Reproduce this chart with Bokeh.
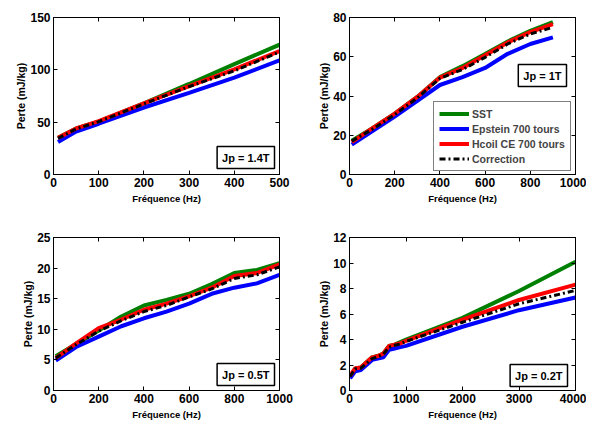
from bokeh.plotting import figure
from bokeh.layouts import gridplot
from bokeh.models import Range1d, LinearAxis, Label, Legend, LegendItem, FixedTicker
from bokeh.embed import file_html
from bokeh.resources import INLINE

# ---------------- data ----------------
series_names = ["SST", "Epstein 700 tours", "Hcoil CE 700 tours", "Correction"]
jp_labels = ["Jp = 1.4T", "Jp = 1T", "Jp = 0.5T", "Jp = 0.2T"]
x_label = "Fréquence (Hz)"
y_label = "Perte (mJ/kg)"

f1 = [10, 50, 100, 200, 300, 400, 500]
sst1 = [35, 44, 50.5, 68, 86.5, 105.5, 124]
eps1 = [31, 41, 48.5, 64, 78, 92.5, 109]
hcoil1 = [35, 44, 51, 68, 84.5, 100.5, 118]
corr1 = [34.5, 43.5, 50.5, 67.5, 84, 99, 117]

f2 = [10, 100, 200, 300, 400, 500, 600, 700, 800, 900]
sst2 = [17.2, 23.5, 31, 39.5, 49.6, 55.2, 61.4, 67.8, 73.2, 77.6]
eps2 = [15.2, 22, 29.5, 37.5, 45.6, 49.6, 54.3, 61.5, 66.5, 69.9]
hcoil2 = [16.5, 23.5, 31, 39.5, 49.4, 54.3, 60.8, 67.3, 72.6, 76.6]
corr2 = [17, 23, 30.5, 39, 49, 53.5, 59.7, 66.5, 71.6, 75]

f3 = [10, 100, 200, 300, 400, 500, 600, 700, 800, 900, 1000]
sst3 = [5.6, 7.6, 9.8, 12.1, 13.9, 14.8, 15.8, 17.4, 19.2, 19.7, 20.8]
eps3 = [4.9, 7.1, 8.8, 10.5, 11.8, 12.9, 14.2, 15.8, 16.8, 17.5, 18.9]
hcoil3 = [5.3, 7.7, 10.2, 11.6, 13.2, 14.2, 15.4, 16.8, 18.7, 19.2, 20.6]
corr3 = [5.3, 7.5, 9.7, 11.4, 12.9, 13.9, 15.3, 16.6, 18.3, 18.9, 20.2]

f4 = [10, 100, 200, 400, 500, 600, 700, 800, 900, 1000, 2000, 3000, 4000]
sst4 = [1.15, 1.7, 1.8, 2.6, 2.7, 2.9, 3.5, 3.6, 3.8, 4.0, 5.7, 7.8, 10.1]
eps4 = [0.95, 1.5, 1.6, 2.4, 2.5, 2.6, 3.2, 3.3, 3.4, 3.5, 5.0, 6.3, 7.3]
hcoil4 = [1.15, 1.75, 1.8, 2.6, 2.7, 2.9, 3.5, 3.6, 3.7, 3.9, 5.55, 7.1, 8.3]
corr4 = [1.1, 1.7, 1.75, 2.5, 2.65, 2.85, 3.4, 3.55, 3.65, 3.85, 5.35, 6.8, 7.85]

x_ranges = [(0, 500), (0, 1000), (0, 1000), (0, 4000)]
y_ranges = [(0, 150), (0, 80), (0, 25), (0, 12)]
x_ticks = [[0, 100, 200, 300, 400, 500], [0, 200, 400, 600, 800, 1000],
           [0, 200, 400, 600, 800, 1000], [0, 1000, 2000, 3000, 4000]]
y_ticks = [[0, 50, 100, 150], [0, 20, 40, 60, 80], [0, 5, 10, 15, 20, 25],
           [0, 2, 4, 6, 8, 10, 12]]

# ---------------- styling ----------------
FONT = "Liberation Sans"
colors = ["#008000", "#0000ff", "#ff0000", "#000000"]
dashes = ["solid", "solid", "solid", "6 3 2 3"]
widths = [4, 4, 4, 3]

datasets = [
    (f1, [sst1, eps1, hcoil1, corr1]),
    (f2, [sst2, eps2, hcoil2, corr2]),
    (f3, [sst3, eps3, hcoil3, corr3]),
    (f4, [sst4, eps4, hcoil4, corr4]),
]

# layout geometry (width, height, left, right, top, bottom borders)
geo = [
    (297, 216, 53, 18, 17, 42),
    (289, 216, 52, 11, 17, 42),
    (297, 206, 53, 18, 21, 30),
    (289, 206, 52, 11, 21, 30),
]
# Jp box anchor (screen px inside frame)
jp_pos = [(221, 6), (217, 88), (221, 5), (218, 4)]


def style_axis(ax, labels=True):
    ax.axis_line_color = "black"
    ax.axis_line_width = 1
    ax.major_tick_in = 4
    ax.major_tick_out = 0
    ax.minor_tick_line_color = None
    ax.major_tick_line_color = "black"
    ax.major_label_text_font = FONT
    ax.major_label_text_font_style = "bold"
    ax.major_label_text_font_size = "12px" if labels else "0px"
    ax.major_label_text_color = "black"
    ax.major_label_standoff = 3 if labels else 0
    ax.axis_label_text_font = FONT
    ax.axis_label_text_font_style = "bold"
    ax.axis_label_text_color = "black"


figs = []
for i, (fx, ys) in enumerate(datasets):
    w, h, bl, br, bt, bb = geo[i]
    p = figure(width=w, height=h, output_backend="svg", toolbar_location=None,
               x_range=Range1d(*x_ranges[i]), y_range=Range1d(*y_ranges[i]),
               min_border_left=bl, min_border_right=br, min_border_top=bt,
               min_border_bottom=bb)
    p.xgrid.visible = False
    p.ygrid.visible = False
    p.outline_line_color = "black"
    p.outline_line_width = 1
    p.background_fill_color = "white"
    p.border_fill_color = "white"

    renderers = []
    for k, yv in enumerate(ys):
        r = p.line(fx, yv, line_color=colors[k], line_width=widths[k],
                   line_dash=dashes[k])
        renderers.append(r)

    xa = p.xaxis[0]
    ya = p.yaxis[0]
    style_axis(xa)
    style_axis(ya)
    xa.ticker = FixedTicker(ticks=x_ticks[i])
    ya.ticker = FixedTicker(ticks=y_ticks[i])
    xa.axis_label = x_label
    xa.axis_label_text_font_size = "9.5px"
    xa.axis_label_standoff = 3
    ya.axis_label = y_label
    ya.axis_label_text_font_size = "10.5px"
    ya.axis_label_standoff = 0

    top = LinearAxis(ticker=FixedTicker(ticks=x_ticks[i]))
    style_axis(top, labels=False)
    top.major_label_overrides = {t: "" for t in x_ticks[i]}
    p.add_layout(top, "above")
    right = LinearAxis(ticker=FixedTicker(ticks=y_ticks[i]))
    style_axis(right, labels=False)
    right.major_label_overrides = {t: "" for t in y_ticks[i]}
    p.add_layout(right, "right")

    lx, ly = jp_pos[i]
    lab = Label(x=lx, y=ly, x_units="screen", y_units="screen",
                text=jp_labels[i], text_font=FONT, text_font_style="bold",
                text_font_size="11px", text_color="black",
                text_align="right", text_baseline="bottom",
                border_line_color="black", border_line_width=1.5,
                background_fill_color="white", padding=5)
    p.add_layout(lab)

    if i == 1:
        items = [LegendItem(label=series_names[k], renderers=[renderers[k]])
                 for k in range(4)]
        leg = Legend(items=items, location=(84, 3), orientation="vertical",
                     label_text_font=FONT, label_text_font_style="bold",
                     label_text_font_size="10.5px", label_height=13,
                     label_standoff=3, glyph_width=30, glyph_height=13,
                     spacing=2, padding=5, margin=0,
                     border_line_color="black", border_line_width=1,
                     background_fill_color="white", background_fill_alpha=1)
        p.add_layout(leg, "center")
    figs.append(p)

grid = gridplot([[figs[0], figs[1]], [figs[2], figs[3]]],
                toolbar_location=None)

open("out.html", "w").write(file_html(grid, INLINE))
